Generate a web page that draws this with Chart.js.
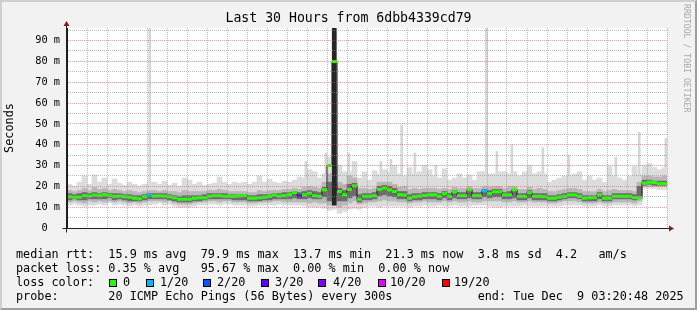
<!DOCTYPE html>
<html><head><meta charset="utf-8">
<script src="https://cdn.jsdelivr.net/npm/chart.js@4.4.1/dist/chart.umd.min.js"></script>
<style>
html,body{margin:0;padding:0;background:#f2f2f2;}
#wrap{position:relative;width:697px;height:310px;background:#f2f2f2;overflow:hidden;}
#c{position:absolute;left:0;top:0;}
.frame{position:absolute;left:0;top:0;width:697px;height:310px;box-sizing:border-box;border-top:2px solid #cfcfcf;border-left:2px solid #cfcfcf;border-right:2px solid #9e9e9e;border-bottom:2px solid #9e9e9e;pointer-events:none;}
.row{position:absolute;left:16px;font-family:"DejaVu Sans Mono",monospace;font-size:11.8px;line-height:14px;white-space:pre;color:#000;}
.box{position:absolute;width:6px;height:6px;border:1px solid #000;}
.lbl{position:absolute;font-family:"DejaVu Sans Mono",monospace;font-size:11.8px;line-height:14px;white-space:pre;color:#000;}
.wm{position:absolute;left:692px;top:4px;transform-origin:0 0;transform:rotate(90deg);font-family:"DejaVu Sans Mono",monospace;font-size:8.2px;line-height:10px;color:#a8a8a8;white-space:pre;}
</style></head>
<body>
<div id="wrap">
<canvas id="c" width="697" height="310"></canvas>
<div class="wm">RRDTOOL / TOBI OETIKER</div>
<div class="row" style="top:247px">median rtt:  15.9 ms avg  79.9 ms max  13.7 ms min  21.3 ms now  3.8 ms sd  4.2   am/s</div>
<div class="row" style="top:261px">packet loss: 0.35 % avg   95.67 % max  0.00 % min  0.00 % now</div>
<div class="row" style="top:275px">loss color:</div>
<div id="losslegend"></div>
<div class="row" style="top:289px">probe:       20 ICMP Echo Pings (56 Bytes) every 300s            end: Tue Dec  9 03:20:48 2025</div>
<div class="frame"></div>
</div>
<script>
// ---- data (ms), 120 bins of 15 minutes ----
const medianMs = [
 15,14.8,14.8,15.5,15.3,15.8,15.5,16,15.5,15.2,15.3,15,
 14.8,14.3,14,15,15.8,15.3,15.4,15.3,15,14.5,13.8,13.8,
 13.8,14.3,14.5,14.5,15.2,15.5,15.5,15.2,15.2,15.2,15.4,15.5,
 14.3,14.3,14.5,14.8,15.2,15.8,15.3,15.5,16,17,15.4,15.9,
 16.7,15.5,15.2,18.3,30,79.9,17.5,16,18.5,20.2,13.8,15.2,
 15.2,15.5,18.5,19.2,18.3,17.5,16,15.8,14.3,15,15.3,15.6,
 15.9,15.9,15.2,16.5,15.2,17.3,15.5,15.5,18.3,15.5,15.5,17.8,
 16.5,17.4,17.4,15.9,15.9,18.3,15.2,15.2,17,15.2,15.2,15,
 14.3,14.3,14.8,15.2,15.9,15.9,15.2,14.3,14.5,14.6,15.9,14.3,
 14.3,15.2,15.2,15.2,15.2,14.6,14.6,21.5,22,21.8,21.3,21.3
];
const lossOf20 = [
 0,0,0,0,0,0,0,0,0,0,0,0, 0,0,0,0,1,0,0,0,0,0,0,0,
 0,0,0,0,0,0,0,0,0,0,0,0, 0,0,0,0,0,0,0,0,0,0,3,0,
 0,0,0,0,0,0,0,0,0,0,0,0, 0,0,0,0,0,0,0,0,0,0,0,0,
 0,0,0,0,0,0,0,0,0,0,0,1, 0,0,0,0,0,0,0,0,0,0,0,0,
 0,0,0,0,0,0,0,0,0,0,0,0, 0,0,0,0,0,0,0,0,0,0,0,0
];
const smokeMax = [
 21,20,22,25,21,25.5,22,24,21,23.5,21.5,20.5,
 22,21,20,21,22,22,21,22.5,20.5,21.5,20,24,
 23,21,22,20.5,21,21.5,24.5,22,21,22,21.5,22,
 21,22,25,22,23.5,22,21.5,22.5,22,23,24.5,24,
 28,27,24,26,34,96,30,27,27,32,24,27,
 23,27.5,26,28,27,30,26,25,29,26,27,30,
 28,25,24,28.5,23,24,26,24,25.5,23,27,27,
 26,26,27,27,26,27,25,27,30,26,27,26,
 22,23,24,25,25,26,27,23,25,23,24,22,
 29.5,25,24,23,25,29.5,26,30,31,29,28,29
];
const smokeMin = [
 11,11.5,11,10.5,11,11,11.5,11,12,11,11.5,11,
 10.5,11,10.5,11,11,11.5,12,11,11.5,10.5,10,10,
 10,10.5,11,11,11.5,11.5,11,11.5,11.5,11,11,11,
 10.5,10.5,11,11,11,11,11.5,11,11,11,11,10.5,
 10,10,10,9.5,8.5,9,7,8,9,9.5,9,10,
 10.5,10.5,10,10.5,10.5,10.5,10.5,10.5,10,10.5,10.5,11,
 10.5,10.5,11,10.5,10.5,11,10.5,10.5,10.5,11,11,11,
 10.5,10,10,10.5,10.5,10.5,10.5,11,10.5,10.5,10.5,10.5,
 10.5,10.5,10.5,11,11,11,11,10.5,10.5,10.5,11,10.5,
 10.5,11,11,11,11,10.5,11,19,19,19,18.5,18.5
];
const midHi = [
 18,17.5,18,19,18,19.5,18.5,19,18,18.5,18,17.5,
 18,17.5,17,17.5,18,18,17.5,18,17.5,17.5,17,18,
 17.5,17.5,17.5,17.5,18,18,18.5,18,17.5,17.5,17.5,17.5,
 17,17,18,17.5,18,18,18,18.5,18.5,19,18.5,19.5,
 20,19.5,19,22,26,30,22,21,25,24,19,19,
 18.5,19,22,22,22,21,19.5,20,18.5,19,18.5,19,
 19,19,18.5,19,18.5,19.5,19,19,20,19,19,20,
 19.5,20,20,19,20,20,18.5,18.5,19.5,18.5,19,18.5,
 17.5,17.5,18,18.5,19,19,18.5,17.5,17.5,17.5,18.5,17.5,
 18,18.5,18,18,18,17.5,22,25,25,24.5,24.5,25
];
const midLo = [
 12.5,13,12.5,12,13,12.5,13,12.5,13,12.5,13,12.5,
 12,12.5,12,12.5,13,13,13,12.5,13,12,11.5,11.5,
 11.5,12,12.5,12.5,13,13,12.5,13,13,12.5,12.5,12.5,
 12,12,12.5,12.5,12.5,13,13,12.5,12.5,12.5,12.5,12.5,
 12,12.5,12,12,11,12,10,11,12,13,11.5,12,
 12.5,12.5,13,13.5,13,13,12.5,12.5,12,12.5,12.5,13,
 12.5,12.5,12.5,13,12.5,13,12.5,12.5,13,12.5,12.5,13,
 13,13,13,12.5,12.5,13,12.5,12.5,13,12.5,12.5,12.5,
 12,12,12.5,13,13,13,12.5,12,12,12,12.5,12,
 12,12.5,12.5,12.5,12.5,12,13,20,20,20,20,20
];
const coreHi = [
 16.5,16,16.5,17,16.5,17,16.5,17,16.5,16.5,16.5,16,
 16,15.5,15.5,16,16.5,16.5,16.5,16.5,16,15.5,15,15.5,
 15.5,15.5,15.5,16,16.5,16.5,16.5,16.5,16,16,16,16,
 15.5,15.5,16,16,16,16.5,16.5,17,17,17.5,17,17.5,
 18,17.5,17,19.5,22,21,19,18,21,21.5,16,16.5,
 16.5,17,20,20.5,20,19,17.5,17.5,16,16.5,16.5,17,
 17,17,16.5,17.5,16.5,18,17,17,18.5,17,17,18.5,
 18,18.5,18.5,17,17.5,18.5,16.5,16.5,18,16.5,16.5,16.5,
 15.5,15.5,16,16.5,17,17,16.5,15.5,15.5,15.5,17,15.5,
 15.5,16.5,16.5,16.5,16.5,16,20,23,23,22.5,22.5,22.5
];
const coreLo = [
 13.5,14,13.5,13.5,14,14,14,14,14.5,13.5,14,13.5,
 13,13,13,13.5,14,14,14,14,13.5,13,12.5,12.5,
 12.5,13,13,13.5,14,14,14,14,14,13.5,13.5,13.5,
 13,13,13,13.5,13.5,14,14,14,14,14.5,14,14,
 14.5,14,14,15,13,15,13,13,14.5,15.5,12.5,13.5,
 13.5,14,15.5,16,15.5,15,14,14,13,13.5,13.5,14,
 14,14,13.5,14.5,13.5,14.5,14,14,14.5,14,14,15,
 14.5,15,15,14,14,14.5,13.5,13.5,14.5,13.5,13.5,13.5,
 13,13,13.5,14,14.5,14.5,14,13,13,13,14,13,
 13,14,14,14,14,13.5,14,20.5,21,20.5,20.5,20.5
];
// thin outlier spikes of the smoke (hours from Mon 00:00, ms)
const spikeHours = [1.48, 18.32, 9.29, 10.29, 11.44, 13.04, 13.54, 14.08, 14.74, 15.79, 18.84, 19.59, 21.14, 22.44, 24.79, 25.96, 27.29];
const spikeLow   = [21,   25,    20,   20,    21,    21,    21,    20,    20,    20,    20,    20,    20,    20,    20,    22,    24];
const spikeHigh  = [96,   96,    32,   36,    36,    32,    33,    49.5,  36,    30,    36.7,  40,    38.5,  35,    34,    46,    43];
// the dense latency burst around Mon 10:43 (all pings spread high)
const burstHours = [10.71];
const burstLow = [11];
const burstHigh = [96];

// axis: hours relative to Mon 00:00; window Sun 21:20:48 .. Tue 03:20:48
const START_H = -2.6533, END_H = 27.3467, BIN_H = 0.25;
const xTickHours = [0, 6, 12, 18, 24];
const xTickLabels = ['Mon 00:00', 'Mon 06:00', 'Mon 12:00', 'Mon 18:00', 'Tue 00:00'];
const lossLevels = [0, 1, 2, 3, 4, 10, 19];
const lossNames = ['0', '1/20', '2/20', '3/20', '4/20', '10/20', '19/20'];
const lossColors = ['#26ff00', '#00b8ff', '#0059ff', '#5e00ff', '#7e00ff', '#dd00ff', '#ff0000'];

// legend swatches (HTML text)
const legPos = [[109,123],[146,160],[203,217],[261,275],[318,333],[378,390],[442,454]];
const ll = document.getElementById('losslegend');
lossNames.forEach((n, i) => {
  const b = document.createElement('div'); b.className = 'box';
  b.style.left = legPos[i][0] + 'px'; b.style.top = '278.5px'; b.style.background = lossColors[i];
  ll.appendChild(b);
  const t = document.createElement('div'); t.className = 'lbl';
  t.style.left = legPos[i][1] + 'px'; t.style.top = '275px'; t.textContent = n;
  ll.appendChild(t);
});

const binHours = medianMs.map((_, i) => START_H + BIN_H * (i + 0.5));
const colorForLoss = l => lossColors[lossLevels.indexOf(l)] || '#26ff00';
const FONT = 'DejaVu Sans Mono';
const MAJOR = 'rgba(222,79,79,0.5)', MINOR = 'rgba(143,143,143,0.6)';

const decor = {
  id: 'decor',
  beforeDraw(chart) {
    const {ctx, chartArea: a} = chart;
    ctx.save(); ctx.fillStyle = '#ffffff';
    ctx.fillRect(a.left, a.top, a.right - a.left, a.bottom - a.top);
    ctx.restore();
  },
  afterDraw(chart) {
    const {ctx, chartArea: a} = chart;
    const x0 = Math.round(a.left) - 0.5, y0 = Math.round(a.bottom) + 0.5;
    ctx.save();
    ctx.strokeStyle = '#1f1f1f'; ctx.lineWidth = 1;
    ctx.beginPath(); ctx.moveTo(x0 - 4, y0); ctx.lineTo(a.right + 4, y0); ctx.stroke();
    ctx.beginPath(); ctx.moveTo(x0, y0 + 4); ctx.lineTo(x0, a.top - 4); ctx.stroke();
    ctx.fillStyle = '#801f1f';
    ctx.beginPath(); ctx.moveTo(a.right + 2, y0 - 3); ctx.lineTo(a.right + 2, y0 + 3); ctx.lineTo(a.right + 7, y0); ctx.closePath(); ctx.fill();
    ctx.beginPath(); ctx.moveTo(x0 - 3, a.top - 2); ctx.lineTo(x0 + 3, a.top - 2); ctx.lineTo(x0, a.top - 7); ctx.closePath(); ctx.fill();
    ctx.restore();
  }
};

const barBase = {type: 'bar', grouped: false, barThickness: 5, borderWidth: 0, borderSkipped: false, yAxisID: 'y'};

new Chart(document.getElementById('c'), {
  type: 'bar',
  plugins: [decor],
  data: {
    datasets: [
      {
        type: 'line', label: 'median rtt', order: 0, yAxisID: 'y',
        data: medianMs.map((v, i) => ({x: binHours[i], y: v})),
        borderColor: '#1f1f1f', borderWidth: 1, stepped: 'middle', fill: false,
        pointStyle: 'line', pointRadius: 2.5, pointBorderWidth: 3,
        pointBorderColor: lossOf20.map(colorForLoss),
        pointBackgroundColor: lossOf20.map(colorForLoss)
      },
      Object.assign({}, barBase, {label: 'burst', order: 1, backgroundColor: '#262626', barThickness: 4,
        data: burstHours.map((h, i) => ({x: h, y: [burstLow[i], burstHigh[i]]}))}),
      Object.assign({}, barBase, {label: 'core', order: 2, backgroundColor: '#6c6c6c',
        data: coreLo.map((v, i) => ({x: binHours[i], y: [v, coreHi[i]]}))}),
      Object.assign({}, barBase, {label: 'mid', order: 3, backgroundColor: '#b8b8b8',
        data: midLo.map((v, i) => ({x: binHours[i], y: [v, midHi[i]]}))}),
      Object.assign({}, barBase, {label: 'outer', order: 4, backgroundColor: '#dcdcdc',
        data: smokeMin.map((v, i) => ({x: binHours[i], y: [v, smokeMax[i]]}))}),
      Object.assign({}, barBase, {label: 'spikes', order: 5, backgroundColor: '#d6d6d6', barThickness: 2,
        data: spikeHours.map((h, i) => ({x: h, y: [spikeLow[i], spikeHigh[i]]}))})
    ]
  },
  options: {
    responsive: false, devicePixelRatio: 1, animation: false, events: [],
    layout: {padding: {left: 0, right: 0, top: 0, bottom: 70}},
    plugins: {
      legend: {display: false}, tooltip: {enabled: false},
      title: {display: true, text: 'Last 30 Hours from 6dbb4339cd79', color: '#000',
        font: {family: FONT, size: 13.2, weight: 'normal'}, padding: {top: 11, bottom: 1.2}}
    },
    scales: {
      x: {
        type: 'linear', min: START_H, max: END_H, offset: false,
        afterFit: s => { s.height = 12; },
        ticks: {stepSize: 1, includeBounds: false, autoSkip: false, maxRotation: 0, minRotation: 0,
          padding: 3, color: '#000', font: {family: FONT, size: 10.3},
          callback: v => { const k = xTickHours.indexOf(v); return k >= 0 ? xTickLabels[k] : ''; }},
        grid: {offset: false, z: 1, drawTicks: false, lineWidth: 1,
          color: c => (c.tick && c.tick.value % 3 === 0) ? MAJOR : MINOR},
        border: {display: true, color: '#1f1f1f', width: 1, dash: [1, 1], z: 2}
      },
      y: {
        type: 'linear', position: 'left', min: 0, max: 96,
        afterFit: s => { s.width = 67; },
        ticks: {stepSize: 5, includeBounds: false, autoSkip: false, padding: 7, color: '#000',
          font: {family: FONT, size: 10.3},
          callback: v => v === 0 ? '0  ' : (v % 10 === 0 ? v + ' m' : '')},
        grid: {z: 1, drawTicks: false, lineWidth: 1,
          color: c => (!c.tick || c.tick.value === 0) ? 'rgba(0,0,0,0)' : (c.tick.value % 10 === 0 ? MAJOR : MINOR)},
        border: {display: true, color: '#1f1f1f', width: 1, dash: [1, 1], z: 2},
        title: {display: true, text: 'Seconds', color: '#000', font: {family: FONT, size: 11.8}, padding: {top: 3, bottom: 0}}
      },
      yRight: {
        type: 'linear', position: 'right', min: 0, max: 96,
        afterFit: s => { s.width = 30; },
        ticks: {display: false}, grid: {display: false, drawOnChartArea: false}, border: {display: false}
      }
    }
  }
});
</script>
</body></html>
